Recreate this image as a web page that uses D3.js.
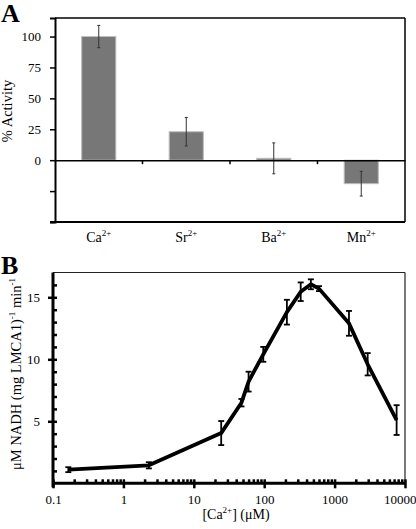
<!DOCTYPE html>
<html>
<head>
<meta charset="utf-8">
<script src="https://cdn.jsdelivr.net/npm/d3@7"></script>
<style>
  html, body { margin: 0; padding: 0; background: #fff; }
  svg { display: block; }
  svg text { font-family: "Liberation Serif", "DejaVu Serif", "Times New Roman", serif !important; fill: #000; }
</style>
</head>
<body>
<svg id="chart" width="416" height="529" font-family="Liberation Serif, serif"></svg>
<script>
// ---- Panel A data ----
const ionNames = ["Ca", "Sr", "Ba", "Mn"];
const ionCharge = ["2+", "2+", "2+", "2+"];
const activity = [100, 23, 1.5, -19];
const activityErr = [9, 11.5, 12.5, 10];
const aTickValues = [-50, -25, 0, 25, 50, 75, 100];
const aTickLabels = ["", "", "0", "25", "50", "75", "100"];

// ---- Panel B data ----
const caConc = [0.165, 2.3, 24.5, 47.5, 60, 97, 210, 330, 460, 600, 1600, 2950, 7600];
const rate = [1.1, 1.45, 4.05, 6.5, 8.2, 10.4, 13.8, 15.45, 16.05, 15.7, 12.9, 9.6, 5.1];
const rateErr = [0.2, 0.25, 0.97, 0.3, 0.8, 0.6, 1.0, 0.75, 0.4, 0.2, 1.0, 0.9, 1.2];
const bXTicks = [0.1, 1, 10, 100, 1000, 10000];
const bXTickLabels = ["0.1", "1", "10", "100", "1000", "10000"];
const bYTicks = [5, 10, 15];

const FONT = "Liberation Serif";
const svg = d3.select("#chart");

// ================= Panel A =================
const A = { left: 55, right: 405, top: 18, bottom: 222 };
const xA = d3.scaleBand().domain(ionNames).range([A.left, A.right]).padding(0);
const yA = d3.scaleLinear().domain([-50, 115]).range([A.bottom, A.top]);
const gA = svg.append("g");

gA.append("line").attr("x1", A.left).attr("x2", A.right).attr("y1", A.top).attr("y2", A.top)
  .attr("stroke", "#000").attr("stroke-width", 1.5);
gA.append("line").attr("x1", A.right).attr("x2", A.right).attr("y1", A.top).attr("y2", A.bottom)
  .attr("stroke", "#000").attr("stroke-width", 1.5);

const barW = xA.bandwidth() * 0.39;
gA.selectAll("rect.bar").data(ionNames).join("rect")
  .attr("class", "bar")
  .attr("x", d => xA(d) + xA.bandwidth() / 2 - barW / 2)
  .attr("width", barW)
  .attr("y", (d, i) => yA(Math.max(0, activity[i])))
  .attr("height", (d, i) => Math.abs(yA(activity[i]) - yA(0)))
  .attr("fill", "#777")
  .attr("stroke", "#bdbdbd")
  .attr("stroke-width", 1);

ionNames.forEach((d, i) => {
  const cx = xA(d) + xA.bandwidth() / 2;
  const y1 = yA(activity[i] + activityErr[i]);
  const y2 = yA(activity[i] - activityErr[i]);
  gA.append("line").attr("x1", cx).attr("x2", cx).attr("y1", y1).attr("y2", y2)
    .attr("stroke", "#333").attr("stroke-width", 1);
  [y1, y2].forEach(yy => gA.append("line").attr("x1", cx - 1.5).attr("x2", cx + 1.5)
    .attr("y1", yy).attr("y2", yy).attr("stroke", "#333").attr("stroke-width", 1));
});

const yAxisA = d3.axisLeft(yA).tickValues(aTickValues)
  .tickFormat((d, i) => aTickLabels[i]).tickSize(5).tickPadding(9);
const gyA = gA.append("g").attr("transform", `translate(${A.left},0)`).call(yAxisA)
  .attr("font-family", FONT);
gyA.select(".domain").attr("stroke", "#000").attr("stroke-width", 2);
gyA.selectAll(".tick line").attr("stroke", "#000").attr("stroke-width", 1.5);
gyA.selectAll(".tick text").attr("font-family", FONT).attr("font-size", 13).attr("fill", "#000");

gA.append("line").attr("x1", A.left - 5).attr("x2", A.right).attr("y1", A.bottom).attr("y2", A.bottom)
  .attr("stroke", "#000").attr("stroke-width", 2);

const xAxisA = d3.axisBottom(xA).tickSize(0).tickFormat("");
const gxA = gA.append("g").attr("transform", `translate(0,${yA(0)})`).call(xAxisA);
gxA.select(".domain").attr("stroke", "#000").attr("stroke-width", 1.5);
gxA.selectAll(".tick").remove();
ionNames.slice(0, -1).forEach(d => {
  const bx = xA(d) + xA.bandwidth();
  gA.append("line").attr("x1", bx).attr("x2", bx).attr("y1", yA(0)).attr("y2", yA(0) + 4)
    .attr("stroke", "#000").attr("stroke-width", 1.5);
});

ionNames.forEach((d, i) => {
  const t = gA.append("text")
    .attr("x", xA(d) + xA.bandwidth() / 2)
    .attr("y", 242)
    .attr("text-anchor", "middle")
    .attr("font-family", FONT)
    .attr("font-size", 14);
  t.append("tspan").text(d);
  t.append("tspan").attr("font-size", 9).attr("dy", -6).text(ionCharge[i]);
});

gA.append("text").attr("transform", `translate(12,111) rotate(-90)`)
  .attr("text-anchor", "middle").attr("font-family", FONT).attr("font-size", 14.5).text("% Activity");

svg.append("text").attr("x", 1).attr("y", 22).attr("font-family", FONT)
  .attr("font-size", 26).attr("font-weight", "bold").text("A");

// ================= Panel B =================
const B = { left: 53, right: 405, top: 272.5, bottom: 483.3 };
const xB = d3.scaleLog().domain([0.1, 10000]).range([B.left, B.right]);
const yB = d3.scaleLinear().domain([0, 17]).range([B.bottom, B.top]);
const gB = svg.append("g");

gB.append("line").attr("x1", B.left).attr("x2", B.right).attr("y1", B.top).attr("y2", B.top)
  .attr("stroke", "#222").attr("stroke-width", 1.2);
gB.append("line").attr("x1", B.right).attr("x2", B.right).attr("y1", B.top).attr("y2", B.bottom)
  .attr("stroke", "#222").attr("stroke-width", 1.2);

const yMinor = d3.range(1, 17).filter(v => v % 5 !== 0);
const gyB = gB.append("g").attr("transform", `translate(${B.left},0)`)
  .call(d3.axisLeft(yB).tickValues(bYTicks).tickSize(5).tickPadding(8));
gyB.select(".domain").remove();
gyB.selectAll(".tick line").attr("stroke", "#000").attr("stroke-width", 2.5).attr("x2", -5).attr("x1", 4);
gyB.selectAll(".tick text").attr("font-family", FONT).attr("font-size", 13).attr("fill", "#000");
gB.append("g").attr("transform", `translate(${B.left},0)`)
  .call(d3.axisRight(yB).tickValues(yMinor).tickSize(4).tickFormat(""))
  .call(g => g.select(".domain").remove())
  .selectAll(".tick line").attr("stroke", "#000").attr("stroke-width", 2.5);

const xMinor = [];
for (let e = -1; e < 4; e++) for (let m = 2; m <= 9; m++) xMinor.push(m * Math.pow(10, e));
const gxB = gB.append("g").attr("transform", `translate(0,${B.bottom})`)
  .call(d3.axisBottom(xB).tickValues(bXTicks).tickFormat((d, i) => bXTickLabels[i]).tickSize(5).tickPadding(6));
gxB.select(".domain").remove();
gxB.selectAll(".tick line").attr("stroke", "#000").attr("stroke-width", 2.5).attr("y1", -4).attr("y2", 5);
gxB.selectAll(".tick text").attr("font-family", FONT).attr("font-size", 13).attr("fill", "#000");
gxB.selectAll(".tick text").filter(d => d === 10000).attr("text-anchor", "end").attr("dx", 11);
gB.append("g").attr("transform", `translate(0,${B.bottom})`)
  .call(d3.axisTop(xB).tickValues(xMinor).tickSize(4).tickFormat(""))
  .call(g => g.select(".domain").remove())
  .selectAll(".tick line").attr("stroke", "#000").attr("stroke-width", 2.5);

gB.append("line").attr("x1", B.left).attr("x2", B.left).attr("y1", B.top).attr("y2", B.bottom + 4)
  .attr("stroke", "#000").attr("stroke-width", 3);
gB.append("line").attr("x1", B.left).attr("x2", B.right + 1).attr("y1", B.bottom).attr("y2", B.bottom)
  .attr("stroke", "#000").attr("stroke-width", 3);

const pts = caConc.map((c, i) => [c, rate[i], rateErr[i]]);
const line = d3.line().x(d => xB(d[0])).y(d => yB(d[1]));
gB.append("path").datum(pts).attr("d", line)
  .attr("fill", "none").attr("stroke", "#000").attr("stroke-width", 3.8).attr("stroke-linejoin", "round");

pts.forEach(p => {
  const cx = xB(p[0]);
  const y1 = yB(p[1] + p[2]);
  const y2 = yB(p[1] - p[2]);
  gB.append("line").attr("x1", cx).attr("x2", cx).attr("y1", y1).attr("y2", y2)
    .attr("stroke", "#000").attr("stroke-width", 1.8);
  [y1, y2].forEach(yy => gB.append("line").attr("x1", cx - 3).attr("x2", cx + 3)
    .attr("y1", yy).attr("y2", yy).attr("stroke", "#000").attr("stroke-width", 1.8));
});

const xl = gB.append("text").attr("x", 236).attr("y", 519).attr("text-anchor", "middle")
  .attr("font-family", FONT).attr("font-size", 14);
xl.append("tspan").text("[Ca");
xl.append("tspan").attr("font-size", 9).attr("dy", -6).text("2+");
xl.append("tspan").attr("dy", 6).text("] (μM)");

const yl = gB.append("text").attr("transform", `translate(21,374) rotate(-90)`)
  .attr("text-anchor", "middle").attr("font-family", FONT).attr("font-size", 14.5);
yl.append("tspan").text("μM NADH (mg LMCA1)");
yl.append("tspan").attr("font-size", 9).attr("dy", -6).text("-1");
yl.append("tspan").attr("dy", 6).text(" min");
yl.append("tspan").attr("font-size", 9).attr("dy", -6).text("-1");

svg.append("text").attr("x", 1).attr("y", 274).attr("font-family", FONT)
  .attr("font-size", 26).attr("font-weight", "bold").text("B");
</script>
</body>
</html>
